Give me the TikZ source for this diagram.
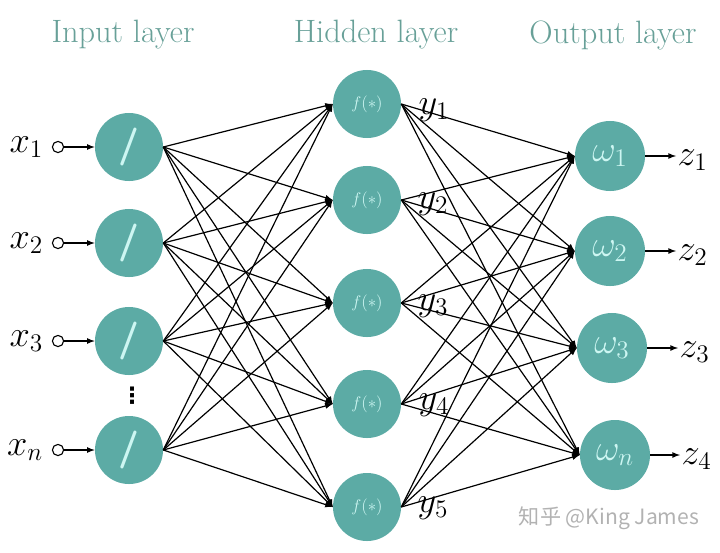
\documentclass[tikz,border=0pt]{standalone}
\usepackage{graphicx}
\usepackage{fontspec}
\newfontfamily\cjkfont{Noto Sans CJK SC}
\newfontfamily\symfont{DejaVu Sans}
\usepackage{tikz}
\usetikzlibrary{arrows,positioning}
\definecolor{nodeteal}{RGB}{92,171,165}
\definecolor{titleteal}{RGB}{104,160,152}
\definecolor{glyphcyan}{RGB}{205,246,242}
\newcommand{\lbl}[1]{\scalebox{1.25}{$#1$}}

\tikzset{
  neuron/.style={circle, fill=nodeteal, minimum size=1.7cm, inner sep=0pt, text=glyphcyan},
  port/.style={circle, draw, line width=0.8pt, minimum size=0.28cm, inner sep=0pt},
  edge/.style={-latex, line width=0.85pt},
  title/.style={text=titleteal, font=\fontsize{23}{24}\selectfont},
  mlabel/.style={inner sep=1pt, font=\fontsize{20}{22}\selectfont}
}

\begin{document}
\begin{tikzpicture}[x=0.025cm, y=-0.025cm]
\useasboundingbox (0,0) rectangle (720,552);

% layer titles
\node[title] (tin)  at (123,35) {Input layer};
\node[title] (thid) at (376,35) {Hidden layer};
\node[title] (tout) at (613,35) {Output layer};

% input layer
\node[neuron, font=\sffamily\bfseries\fontsize{27}{27}\selectfont] (i1) at (129,147) {/};
\node[neuron, font=\sffamily\bfseries\fontsize{27}{27}\selectfont] (i2) at (129,243) {/};
\node[neuron, font=\sffamily\bfseries\fontsize{27}{27}\selectfont] (i3) at (129,341) {/};
\node[neuron, font=\sffamily\bfseries\fontsize{27}{27}\selectfont] (i4) at (129,450) {/};
\node[font=\symfont\bfseries\fontsize{16}{16}\selectfont] (dots) at (132,396) {⋮};

\node[port] (p1) at (58,147) {};
\node[port] (p2) at (58,243) {};
\node[port] (p3) at (58,341) {};
\node[port] (p4) at (58,450) {};
\node[mlabel, left=5pt of p1] (x1) {\lbl{x_1}};
\node[mlabel, left=5pt of p2] (x2) {\lbl{x_2}};
\node[mlabel, left=5pt of p3] (x3) {\lbl{x_3}};
\node[mlabel, left=5pt of p4] (xn) {\lbl{x_n}};
\foreach \i in {1,...,4}
  \draw[edge] (p\i) -- (i\i.west);

% hidden layer
\node[neuron, font=\fontsize{12}{13}\selectfont] (h1) at (367,104) {$f(*)$};
\node[neuron, font=\fontsize{12}{13}\selectfont] (h2) at (367,200) {$f(*)$};
\node[neuron, font=\fontsize{12}{13}\selectfont] (h3) at (367,303) {$f(*)$};
\node[neuron, font=\fontsize{12}{13}\selectfont] (h4) at (367,404) {$f(*)$};
\node[neuron, font=\fontsize{12}{13}\selectfont] (h5) at (367,507) {$f(*)$};

% output layer
\node[neuron, minimum size=1.75cm, font=\fontsize{20}{22}\selectfont] (o1) at (610,156) {\lbl{\omega_1}};
\node[neuron, minimum size=1.75cm, font=\fontsize{20}{22}\selectfont] (o2) at (610,251) {\lbl{\omega_2}};
\node[neuron, minimum size=1.75cm, font=\fontsize{20}{22}\selectfont] (o3) at (612,348) {\lbl{\omega_3}};
\node[neuron, minimum size=1.75cm, font=\fontsize{20}{22}\selectfont] (o4) at (615,455) {\lbl{\omega_n}};

% connections
\foreach \i in {1,...,4}
  \foreach \j in {1,...,5}
    \draw[edge] (i\i.east) -- (h\j.west);
\foreach \j in {1,...,5}
  \foreach \k in {1,...,4}
    \draw[edge] (h\j.east) -- (o\k.west);

% hidden outputs
\node[mlabel] (y1) at (434,110) {\lbl{y_1}};
\node[mlabel] (y2) at (433,204) {\lbl{y_2}};
\node[mlabel] (y3) at (433,306) {\lbl{y_3}};
\node[mlabel] (y4) at (434,405) {\lbl{y_4}};
\node[mlabel] (y5) at (433,508) {\lbl{y_5}};

% final outputs
\node[mlabel, anchor=west] (z1) at (676,160) {\lbl{z_1}};
\node[mlabel, anchor=west] (z2) at (676,255) {\lbl{z_2}};
\node[mlabel, anchor=west] (z3) at (678,352) {\lbl{z_3}};
\node[mlabel, anchor=west] (z4) at (680,459) {\lbl{z_4}};
\foreach \k in {1,...,4}
  \draw[-latex, line width=0.85pt] (o\k.east) -- (o\k.east -| z\k.west);

% watermark
\node[text=black!30, font=\cjkfont\fontsize{15}{16}\selectfont] (mark) at (609,518) {知乎 @King James};
\end{tikzpicture}
\end{document}
